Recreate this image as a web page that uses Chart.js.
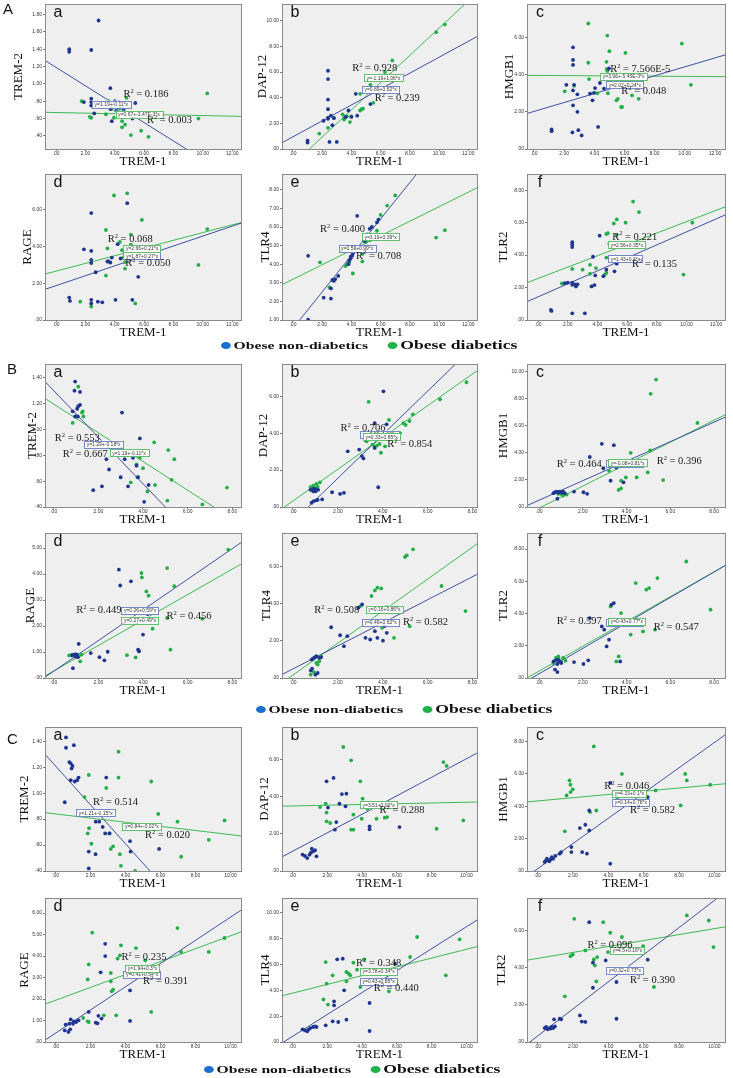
<!DOCTYPE html>
<html>
<head>
<meta charset="utf-8">
<script src="https://cdn.jsdelivr.net/npm/chart.js@4.4.1/dist/chart.umd.min.js"></script>
<style>
  body { margin: 0; background: #fff; width: 733px; height: 1078px; position: relative; overflow: hidden; }
  .plot { position: absolute; }
  .panel { position: absolute; font: 15px 'Liberation Sans', sans-serif; color: #111; }
  .legend { position: absolute; display: flex; align-items: center; white-space: nowrap;
            transform: scaleX(1.4); transform-origin: 0 50%; font-family: 'Liberation Serif', serif;
            font-weight: bold; color: #111; }
  .dot { width: 7px; height: 7px; border-radius: 50%; display: inline-block; margin-right: 2px; }
</style>
</head>
<body>
<script>
// axis titles and groups
const xTitle = 'TREM-1';
const yTitles = ['TREM-2', 'DAP-12', 'HMGB1', 'RAGE', 'TLR4', 'TLR2'];
const groups = ['Obese non-diabetics', 'Obese diabetics'];

// x axes per panel
const A_x = [-0.75, 12.6];
const A_c_x = [-0.46, 12.66];
const A_xt = [0, 2, 4, 6, 8, 10, 12];
const B_x = [[-0.39, 8.39], [-0.49, 8.2], [-0.55, 8.5]];
const B_xt = [0, 2, 4, 6, 8];
const C_x = [-0.6, 10.6];
const C_xt = [0, 2, 4, 6, 8, 10];

// ---------- Panel A ----------
const A_a_y = [0.25, 1.92], A_a_yt = [0.4, 0.6, 0.8, 1.0, 1.2, 1.4, 1.6, 1.8];
const A_a_nd = [[0.9,1.40],[0.9,1.37],[2.4,1.39],[2.9,1.73],[1.9,0.79],[2.4,0.83],[2.4,0.79],[2.4,0.75],[2.6,0.66],[3.7,0.95],[3.7,0.71],[3.8,0.57],[4.0,0.80],[4.1,0.69],[4.3,0.79],[4.5,0.75],[4.6,0.70],[5.2,0.60],[5.4,0.78]];
const A_a_d = [[1.75,0.80],[2.3,0.62],[2.4,0.61],[3.4,0.65],[3.6,0.80],[3.8,0.71],[3.95,0.61],[4.3,0.71],[4.5,0.57],[4.5,0.50],[4.6,0.70],[4.7,0.53],[4.8,0.84],[5.1,0.41],[5.8,0.46],[6.3,0.39],[9.7,0.60],[10.3,0.89]];
const A_a_fit = [[1.19, -0.106], [0.67, -0.0035]];
const A_a_r2 = ['0.186', '0.003'];
const A_a_eq = ['y=1.19+-0.11*x', 'y=0.67+-3.47E-3*x'];

const A_b_y = [0, 11.3], A_b_yt = [0, 2, 4, 6, 8, 10];
const A_b_nd = [[1.0,0.65],[1.0,0.5],[2.1,2.2],[2.4,2.35],[2.4,2.45],[2.4,3.1],[2.4,3.85],[2.4,5.45],[2.4,6.1],[2.5,0.55],[2.6,2.6],[2.7,1.85],[2.8,2.4],[3.0,0.55],[3.6,2.5],[3.8,3.0],[4.0,2.5],[4.3,4.3],[4.4,2.6],[5.3,3.5]];
const A_b_d = [[1.8,1.2],[2.4,1.65],[2.8,2.45],[3.4,2.7],[3.5,2.3],[3.5,2.4],[3.6,2.45],[3.7,2.55],[3.9,2.1],[4.0,2.55],[4.6,4.3],[4.6,3.0],[4.7,3.1],[4.8,3.15],[5.3,5.0],[5.5,3.6],[6.3,6.0],[6.8,6.9],[9.8,9.1],[10.4,9.7]];
const A_b_fit = [[0.95, 0.62], [-1.19, 1.06]];
const A_b_r2 = ['0.239', '0.928'];
const A_b_eq = ['y=0.89+0.62*x', 'y=-1.19+1.06*x'];

const A_c_y = [0, 7.8], A_c_yt = [0, 2, 4, 6];
const A_c_nd = [[1.17,1.05],[1.17,0.96],[2.15,3.45],[2.59,5.47],[2.59,4.79],[2.59,4.52],[2.66,3.45],[2.59,3.15],[2.59,2.35],[2.55,0.89],[2.88,2.94],[2.88,2.0],[2.94,1.01],[3.16,0.73],[3.72,2.98],[3.88,2.62],[3.98,3.02],[4.05,3.28],[4.25,1.19],[4.37,3.55],[4.64,3.25],[4.97,4.33],[5.14,3.98],[5.3,3.7]];
const A_c_d = [[2.04,3.1],[2.66,3.4],[3.6,4.64],[3.65,3.76],[3.6,6.75],[4.2,3.0],[4.81,4.69],[4.86,6.1],[4.81,4.3],[4.86,4.2],[4.9,3.0],[5.0,5.26],[5.47,2.62],[5.56,2.7],[5.78,2.26],[5.84,2.26],[6.06,5.17],[6.5,2.88],[6.94,2.7],[9.8,5.67],[10.4,3.45]];
const A_c_fit = [[2.02, 0.24], [3.96, -0.00545]];
const A_c_r2 = ['0.048', '7.566E-5'];
const A_c_eq = ['y=2.02+0.24*x', 'y=3.96+-5.45E-3*x'];

const A_d_y = [0, 7.95], A_d_yt = [0, 2, 4, 6];
const A_d_nd = [[0.9,1.22],[0.95,1.04],[1.9,3.85],[2.4,3.76],[2.4,3.27],[2.4,3.1],[2.4,5.82],[2.4,1.1],[2.4,0.9],[2.7,2.6],[2.85,1.0],[3.15,0.96],[3.5,3.18],[3.55,3.2],[3.7,3.13],[3.8,3.4],[4.05,1.1],[4.2,4.13],[4.4,3.35],[4.85,6.36],[5.2,1.1],[5.6,2.35]];
const A_d_d = [[1.65,1.0],[2.4,0.73],[3.4,4.9],[3.5,3.9],[3.4,2.42],[3.95,6.78],[4.35,4.25],[4.5,3.8],[4.6,3.4],[4.7,2.8],[4.7,3.15],[4.85,6.9],[5.1,4.1],[5.1,4.65],[5.4,0.9],[5.85,5.45],[9.7,3.0],[10.3,4.95]];
const A_d_fit = [[1.87, 0.27], [2.66, 0.21]];
const A_d_r2 = ['0.050', '0.068'];
const A_d_eq = ['y=1.87+0.27*x', 'y=2.66+0.21*x'];

const A_e_y = [1.0, 8.85], A_e_yt = [1, 2, 3, 4, 5, 6, 7, 8];
const A_e_nd = [[1.04,4.45],[1.04,1.02],[2.1,2.2],[2.6,2.15],[2.6,2.7],[2.7,3.15],[2.8,3.1],[2.9,3.2],[3.1,3.37],[3.8,4.0],[3.85,4.2],[3.95,4.3],[3.95,4.4],[4.05,4.45],[4.1,4.57],[4.4,6.6],[4.9,5.25],[5.1,5.6],[5.25,5.9],[5.4,6.0],[5.75,6.25],[5.85,6.4]];
const A_e_d = [[1.85,4.1],[2.5,2.75],[3.6,3.9],[3.7,4.0],[3.85,4.1],[4.1,3.5],[4.75,4.15],[4.75,4.55],[4.85,5.3],[5.0,5.2],[5.3,5.3],[5.5,5.5],[5.75,5.8],[6.0,6.65],[6.45,7.15],[7.0,7.7],[9.8,5.43],[10.4,5.83]];
const A_e_fit = [[0.55, 0.98], [3.19, 0.39]];
const A_e_r2 = ['0.708', '0.400'];
const A_e_eq = ['y=0.59+0.99*x', 'y=3.19+0.39*x'];

const A_f_y = [0, 9.0], A_f_yt = [0, 2, 4, 6, 8];
const A_f_nd = [[0.86,0.62],[0.9,0.56],[1.8,2.27],[2.0,2.3],[2.3,2.17],[2.3,2.3],[2.5,2.2],[2.55,2.07],[2.65,2.2],[2.3,4.65],[2.3,4.5],[2.3,4.8],[2.3,0.41],[3.15,0.41],[3.6,2.07],[3.8,2.15],[3.85,2.75],[3.7,3.9],[4.15,5.2],[4.4,2.7],[4.6,3.1],[5.15,3.0],[5.3,3.47]];
const A_f_d = [[1.6,2.25],[2.3,3.15],[3.0,3.1],[3.5,2.85],[3.5,3.4],[3.9,3.2],[4.5,2.8],[4.6,2.9],[4.6,3.85],[4.6,5.3],[4.7,5.35],[4.8,4.7],[5.1,5.95],[5.3,5.25],[5.3,6.2],[5.9,6.0],[6.4,7.3],[6.8,6.65],[9.8,2.8],[10.4,6.0]];
const A_f_fit = [[1.43, 0.4], [2.56, 0.35]];
const A_f_r2 = ['0.135', '0.221'];
const A_f_eq = ['y=1.43+0.4*x', 'y=2.56+0.35*x'];

// ---------- Panel B ----------
const B_a_y = [0.4, 1.506], B_a_yt = [0.4, 0.6, 0.8, 1.0, 1.2, 1.4];
const B_a_nd = [[0.96,1.37],[0.93,1.30],[1.18,1.29],[1.18,1.19],[1.1,1.18],[1.05,1.16],[0.85,1.14],[0.96,1.10],[1.08,1.10],[3.06,1.13],[3.86,0.93],[2.36,0.77],[3.18,0.77],[3.55,0.78],[2.48,0.69],[3.71,0.72],[3.0,0.63],[3.78,0.63],[2.16,0.56],[1.77,0.53],[3.33,0.56],[4.25,0.57],[4.05,0.44]];
const B_a_d = [[1.1,1.33],[1.3,1.14],[1.27,1.13],[1.33,1.10],[0.85,1.05],[1.0,1.10],[4.5,0.90],[5.13,0.84],[5.4,0.77],[3.86,0.78],[3.71,0.73],[4.0,0.70],[3.75,0.63],[3.45,0.59],[5.28,0.61],[4.54,0.57],[4.2,0.52],[5.09,0.45],[6.66,0.42],[7.76,0.55]];
const B_a_fit = [[1.30, -0.18], [1.196, -0.111]];
const B_a_r2 = ['0.553', '0.667'];
const B_a_eq = ['y=1.29+-0.18*x', 'y=1.19+-0.11*x'];

const B_b_y = [0, 7.75], B_b_yt = [0, 2, 4, 6];
const B_b_nd = [[0.83,0.23],[0.93,0.32],[1.04,0.36],[1.1,0.39],[1.0,0.85],[0.78,0.93],[0.9,0.98],[1.0,0.98],[1.12,0.93],[0.9,0.85],[1.3,0.41],[1.74,0.8],[2.1,0.71],[2.27,0.77],[2.44,3.02],[2.95,3.11],[3.07,2.76],[3.14,2.63],[3.22,3.65],[3.64,4.54],[3.8,1.07],[4.03,6.27],[4.17,4.48],[3.64,3.2]];
const B_b_d = [[0.9,1.16],[1.04,1.25],[1.2,1.33],[0.95,1.03],[0.78,1.07],[1.1,1.1],[3.37,5.7],[3.28,3.56],[3.54,3.38],[3.64,3.29],[3.75,3.33],[3.86,3.42],[3.92,2.94],[4.1,3.29],[4.28,4.72],[4.77,4.0],[4.92,4.54],[5.02,4.45],[5.19,4.66],[5.34,5.02],[6.55,5.84],[7.73,6.76]];
const B_b_fit = [[-0.8, 1.18], [0.33, 0.86]];
const B_b_r2 = ['0.706', '0.854'];
const B_b_eq = ['y=-0.80+1.18*x', 'y=0.33+0.85*x'];

const B_c_y = [0, 10.55], B_c_yt = [0, 2, 4, 6, 8, 10];
const B_c_nd = [[0.66,1.02],[0.73,1.09],[0.8,1.14],[0.88,1.07],[0.95,1.14],[1.02,1.07],[1.1,1.14],[1.17,1.02],[0.84,0.61],[1.6,1.14],[2.03,1.09],[2.2,0.97],[2.32,3.69],[2.87,4.66],[2.94,2.86],[3.27,1.94],[3.42,4.56],[3.53,2.91],[3.86,1.82],[3.97,3.28]];
const B_c_d = [[0.88,0.97],[1.0,0.97],[1.1,0.85],[1.26,0.92],[3.2,2.67],[3.31,3.2],[3.64,1.26],[3.75,1.94],[3.75,1.38],[3.97,2.18],[4.19,4.0],[4.46,2.18],[4.97,2.55],[5.08,4.17],[5.1,8.35],[5.35,9.4],[5.67,1.99],[7.24,6.2]];
const B_c_fit = [[0.5, 0.72], [-0.08, 0.81]];
const B_c_r2 = ['0.464', '0.396'];
const B_c_eq = ['y=0.50+0.72*x', 'y=-0.08+0.81*x'];

const B_d_y = [0, 5.58], B_d_yt = [0, 1, 2, 3, 4, 5];
const B_d_nd = [[0.86,0.38],[0.93,0.9],[0.82,0.87],[0.97,0.83],[1.04,0.9],[1.08,0.8],[1.12,1.31],[1.66,0.96],[2.05,0.8],[2.27,0.68],[2.42,1.01],[2.92,4.17],[2.98,3.56],[3.46,3.72],[3.56,2.18],[3.78,1.09],[3.82,1.03],[4.0,1.67],[4.21,2.46],[4.28,2.24]];
const B_d_d = [[0.69,0.87],[0.82,0.9],[0.97,0.92],[1.12,0.83],[1.19,0.64],[1.25,0.9],[3.28,0.88],[3.67,0.79],[3.67,2.18],[3.82,1.03],[3.93,4.04],[3.95,3.87],[4.15,3.33],[4.25,3.17],[4.43,1.9],[5.08,2.31],[5.08,4.23],[5.23,1.09],[5.4,3.53],[6.65,2.28],[7.82,4.94]];
const B_d_fit = [[0.26, 0.59], [0.27, 0.49]];
const B_d_r2 = ['0.449', '0.456'];
const B_d_eq = ['y=0.26+0.59*x', 'y=0.27+0.49*x'];

const B_e_y = [0, 7.8], B_e_yt = [0, 2, 4, 6];
const B_e_nd = [[0.79,0.4],[0.85,0.5],[1.0,0.18],[1.1,0.27],[0.96,1.11],[0.89,1.04],[1.04,1.17],[1.17,1.08],[0.83,0.99],[1.25,1.11],[1.7,2.73],[2.1,2.3],[2.27,1.71],[2.42,2.25],[2.91,3.78],[3.08,3.96],[3.23,2.16],[3.44,2.07],[3.65,2.52],[3.76,2.16],[4.01,2.01],[4.08,2.79],[4.18,2.43]];
const B_e_d = [[0.79,0.18],[0.93,0.32],[1.04,0.81],[1.17,0.9],[1.25,1.17],[1.1,0.72],[3.01,3.87],[3.5,4.41],[3.65,4.71],[3.76,4.86],[3.93,4.82],[3.97,2.7],[4.18,3.83],[4.5,2.16],[4.99,6.51],[5.07,6.6],[5.35,6.92],[5.2,2.79],[6.62,4.95],[7.69,3.6]];
const B_e_fit = [[0.49, 0.62], [0.16, 0.86]];
const B_e_r2 = ['0.582', '0.508'];
const B_e_eq = ['y=0.49+0.62*x', 'y=0.16+0.86*x'];

const B_f_y = [0, 9.0], B_f_yt = [0, 2, 4, 6, 8];
const B_f_nd = [[0.73,0.52],[0.84,0.37],[0.66,1.03],[0.77,1.1],[0.88,1.14],[0.95,1.03],[1.02,0.93],[0.84,0.87],[1.6,0.99],[2.03,0.87],[2.25,1.1],[2.32,3.72],[2.87,3.2],[2.98,3.0],[3.09,1.96],[3.2,2.38],[3.31,4.55],[3.42,4.65],[3.71,3.51],[3.71,1.03],[3.8,3.31]];
const B_f_d = [[0.66,0.93],[0.77,1.24],[0.88,1.34],[0.99,0.99],[1.1,1.24],[1.21,1.07],[3.27,4.44],[3.53,1.03],[3.64,1.34],[3.75,4.03],[3.86,3.51],[4.19,2.69],[4.42,5.89],[4.75,2.89],[4.9,5.48],[5.03,5.58],[5.3,3.0],[5.41,6.2],[6.73,7.23],[7.84,4.24]];
const B_f_fit = [[0.26, 0.79], [0.43, 0.77]];
const B_f_r2 = ['0.597', '0.547'];
const B_f_eq = ['y=0.26+0.79*x', 'y=0.43+0.77*x'];

// ---------- Panel C ----------
const C_a_y = [0.4, 1.51], C_a_yt = [0.4, 0.6, 0.8, 1.0, 1.2, 1.4];
const C_a_nd = [[0.6,1.43],[0.6,1.35],[1.05,1.37],[0.79,1.24],[0.87,1.23],[0.97,1.21],[0.92,1.19],[0.87,1.10],[1.1,1.09],[1.24,1.10],[1.32,1.12],[0.53,0.93],[1.9,0.55],[1.9,0.42],[2.3,0.78],[2.5,0.78],[2.7,0.74],[2.84,0.69],[2.9,1.12],[3.08,0.69],[2.29,0.53],[4.26,0.63],[4.29,0.55],[5.92,0.57]];
const C_a_d = [[1.66,0.97],[1.9,1.14],[1.92,0.73],[1.84,0.69],[2.05,0.61],[2.9,1.04],[3.1,0.69],[3.16,0.57],[3.29,0.59],[3.6,1.12],[3.6,1.32],[3.68,0.53],[3.74,0.44],[4.55,0.40],[5.47,1.09],[5.87,0.84],[6.97,0.78],[7.18,0.51],[8.76,0.64],[9.66,0.79]];
const C_a_fit = [[1.21, -0.15], [0.84, -0.016]];
const C_a_r2 = ['0.514', '0.020'];
const C_a_eq = ['y=1.21+-0.15*x', 'y=0.84+-0.02*x'];

const C_b_y = [0, 7.77], C_b_yt = [0, 2, 4, 6];
const C_b_nd = [[0.58,0.88],[0.72,0.81],[0.85,0.7],[0.98,0.88],[1.06,0.99],[1.11,1.2],[1.19,1.06],[1.3,1.12],[1.38,0.79],[1.96,4.84],[2.04,3.42],[2.36,5.02],[2.44,2.23],[2.52,2.64],[2.7,3.63],[2.84,4.15],[3.05,3.49],[3.1,4.17],[4.43,2.41],[4.43,2.25],[6.15,2.37]];
const C_b_d = [[1.59,3.45],[1.91,3.63],[1.96,3.15],[1.96,2.68],[2.17,2.59],[2.92,6.69],[3.37,5.97],[3.37,2.23],[3.5,2.23],[3.5,3.04],[3.9,4.84],[3.98,2.82],[4.03,3.9],[4.3,3.36],[4.83,2.82],[5.3,2.88],[5.44,2.91],[8.28,2.28],[8.67,5.88],[8.86,5.67],[9.81,2.73]];
const C_b_fit = [[1.06, 0.5], [3.51, 0.02]];
const C_b_r2 = [null, '0.288'];
const C_b_eq = [null, 'y=3.51+0.02*x'];

const C_c_y = [0, 8.9], C_c_yt = [0, 2, 4, 6, 8];
const C_c_nd = [[0.4,0.56],[0.48,0.66],[0.53,0.76],[0.66,0.6],[0.74,0.72],[0.8,0.86],[0.88,0.76],[1.0,0.93],[1.25,1.07],[1.33,1.17],[1.91,1.48],[1.91,1.17],[2.39,2.65],[2.52,1.17],[2.7,2.86],[2.79,1.07],[2.92,2.51],[2.92,3.74],[4.11,5.45],[4.11,0.45],[6.23,4.57]];
const C_c_d = [[1.54,2.45],[1.64,4.67],[1.8,5.6],[1.86,5.33],[1.86,4.88],[1.99,5.04],[2.97,3.64],[3.32,3.74],[3.18,7.7],[4.46,4.67],[4.51,4.42],[4.56,4.16],[4.64,4.83],[4.77,6.0],[6.68,4.98],[8.09,4.05],[8.35,6.0],[8.44,5.6],[9.76,5.33]];
const C_c_fit = [[0.14, 0.78], [4.33, 0.1]];
const C_c_r2 = ['0.582', '0.046'];
const C_c_eq = ['y=0.14+0.78*x', 'y=4.33+0.1*x'];

const C_d_y = [0, 6.7], C_d_yt = [0, 1, 2, 3, 4, 5, 6];
const C_d_nd = [[0.53,0.54],[0.58,0.81],[0.79,0.85],[0.74,0.47],[0.84,0.59],[0.87,1.05],[1.0,0.85],[1.05,0.96],[1.18,0.93],[1.32,1.01],[1.9,1.4],[2.3,0.9],[2.4,0.87],[2.45,1.22],[2.63,1.09],[2.58,3.24],[2.84,4.0],[2.84,4.57],[4.26,2.4],[4.26,0.98]];
const C_d_d = [[1.58,1.12],[1.84,0.96],[1.9,0.93],[1.84,2.91],[1.9,3.61],[2.1,5.09],[2.76,1.24],[3.16,3.21],[3.16,2.82],[3.21,2.36],[3.29,2.43],[3.47,1.24],[3.55,3.88],[3.68,4.03],[3.74,4.5],[4.6,4.37],[5.13,3.8],[5.47,1.4],[6.97,5.3],[7.18,4.19],[8.76,4.19],[9.66,4.84]];
const C_d_fit = [[0.41, 0.54], [1.94, 0.3]];
const C_d_r2 = ['0.391', '0.235'];
const C_d_eq = ['y=0.41+0.54*x', 'y=1.94+0.3*x'];

const C_e_y = [0, 11.15], C_e_yt = [0, 2, 4, 6, 8, 10];
const C_e_nd = [[0.58,0.98],[0.72,0.9],[0.85,0.83],[0.93,0.98],[1.03,1.08],[1.19,1.16],[1.3,1.21],[1.38,1.16],[1.91,1.29],[2.31,1.6],[2.39,2.84],[2.39,3.15],[2.57,6.4],[2.63,1.55],[2.89,6.45],[2.97,4.0],[3.1,1.73],[4.43,3.02],[4.43,0.85],[5.89,6.06]];
const C_e_d = [[1.78,3.3],[1.91,6.19],[1.96,4.52],[2.04,2.9],[2.31,5.16],[3.1,5.42],[3.1,4.7],[3.24,5.29],[3.32,5.16],[3.5,6.14],[3.71,5.6],[3.9,4.26],[4.11,6.4],[5.54,3.92],[6.76,6.58],[7.16,8.13],[8.81,5.16],[9.6,7.95]];
const C_e_fit = [[0.43, 0.85], [3.78, 0.34]];
const C_e_r2 = ['0.440', '0.348'];
const C_e_eq = ['y=0.43+0.85*x', 'y=3.78+0.34*x'];

const C_f_y = [0, 7.75], C_f_yt = [0, 2, 4, 6];
const C_f_nd = [[0.4,0.75],[0.48,0.81],[0.58,0.68],[0.66,0.75],[0.74,0.72],[0.8,0.81],[0.88,0.75],[0.98,0.84],[0.93,1.22],[1.25,1.25],[1.33,1.22],[2.39,1.43],[2.5,1.1],[2.7,1.08],[2.92,6.45],[3.13,4.27],[3.13,2.92],[3.85,4.39],[4.46,1.25],[4.46,3.23],[6.23,4.43]];
const C_f_d = [[1.54,2.46],[1.86,4.62],[1.99,4.71],[2.07,6.63],[2.7,4.93],[3.18,4.44],[3.24,4.12],[3.32,3.26],[3.37,4.57],[3.71,6.45],[3.98,4.84],[4.11,5.88],[4.77,5.65],[5.97,5.16],[6.58,2.96],[8.44,6.81],[9.68,6.54],[9.95,5.11]];
const C_f_fit = [[0.32, 0.73], [4.5, 0.16]];
const C_f_r2 = ['0.390', '0.096'];
const C_f_eq = ['y=0.32+0.73*x', 'y=4.5+0.16*x'];

// ---------- layout ----------
const COLS = [[45, 241], [282, 477], [527, 725]];
const ROWS = [[4, 149], [174, 320], [364, 507], [533, 678], [727, 871], [898, 1042]];
const BLUE = '#1f3590', GREEN = '#23ae48';
const BLUE_LINE = '#3e51a3', GREEN_LINE = '#3dba52';
const BLUE_BOX = '#7488c8', GREEN_BOX = '#62bf70';

// [row, col, letter, x range, x ticks, y range, y ticks, nd, d, fit, r2, eq, label positions, y title gap]
const plots = [
  [0, 0, 'a', A_x, A_xt, A_a_y, A_a_yt, A_a_nd, A_a_d, A_a_fit, A_a_r2, A_a_eq, [[.40,.62],[.52,.80],[.24,.69],[.36,.76]], 26],
  [0, 1, 'b', A_x, A_xt, A_b_y, A_b_yt, A_b_nd, A_b_d, A_b_fit, A_b_r2, A_b_eq, [[.475,.65],[.36,.44],[.41,.59],[.42,.51]], 19],
  [0, 2, 'c', A_c_x, A_xt, A_c_y, A_c_yt, A_c_nd, A_c_d, A_c_fit, A_c_r2, A_c_eq, [[.476,.60],[.42,.45],[.40,.557],[.37,.50]], 17],
  [1, 0, 'd', A_x, A_xt, A_d_y, A_d_yt, A_d_nd, A_d_d, A_d_fit, A_d_r2, A_d_eq, [[.41,.61],[.32,.45],[.40,.56],[.40,.51]], 17],
  [1, 1, 'e', A_x, A_xt, A_e_y, A_e_yt, A_e_nd, A_e_d, A_e_fit, A_e_r2, A_e_eq, [[.38,.56],[.195,.38],[.29,.51],[.41,.43]], 16],
  [1, 2, 'f', A_x, A_xt, A_f_y, A_f_yt, A_f_nd, A_f_d, A_f_fit, A_f_r2, A_f_eq, [[.53,.62],[.43,.43],[.41,.58],[.41,.485]], 23],
  [2, 0, 'a', B_x[0], B_xt, B_a_y, B_a_yt, B_a_nd, B_a_d, B_a_fit, B_a_r2, B_a_eq, [[.05,.52],[.09,.63],[.20,.56],[.33,.62]], 12],
  [2, 1, 'b', B_x[1], B_xt, B_b_y, B_b_yt, B_b_nd, B_b_d, B_b_fit, B_b_r2, B_b_eq, [[.30,.45],[.54,.56],[.40,.49],[.415,.51]], 18],
  [2, 2, 'c', B_x[2], B_xt, B_c_y, B_c_yt, B_c_nd, B_c_d, B_c_fit, B_c_r2, B_c_eq, [[.15,.70],[.655,.68],[.40,.695],[.41,.69]], 23],
  [3, 0, 'd', B_x[0], B_xt, B_d_y, B_d_yt, B_d_nd, B_d_d, B_d_fit, B_d_r2, B_d_eq, [[.16,.53],[.62,.575],[.39,.535],[.39,.60]], 14],
  [3, 1, 'e', B_x[1], B_xt, B_e_y, B_e_yt, B_e_nd, B_e_d, B_e_fit, B_e_r2, B_e_eq, [[.62,.615],[.165,.53],[.41,.615],[.43,.525]], 15],
  [3, 2, 'f', B_x[2], B_xt, B_f_y, B_f_yt, B_f_nd, B_f_d, B_f_fit, B_f_r2, B_f_eq, [[.15,.61],[.64,.65],[.40,.615],[.41,.61]], 23],
  [4, 0, 'a', C_x, C_xt, C_a_y, C_a_yt, C_a_nd, C_a_d, C_a_fit, C_a_r2, C_a_eq, [[.245,.525],[.51,.75],[.16,.595],[.395,.69]], 20],
  [4, 1, 'b', C_x, C_xt, C_b_y, C_b_yt, C_b_nd, C_b_d, C_b_fit, C_b_r2, C_b_eq, [null,[.50,.58],null,[.40,.54]], 17],
  [4, 2, 'c', C_x, C_xt, C_c_y, C_c_yt, C_c_nd, C_c_d, C_c_fit, C_c_r2, C_c_eq, [[.52,.58],[.39,.41],[.43,.525],[.43,.46]], 23],
  [5, 0, 'd', C_x, C_xt, C_d_y, C_d_yt, C_d_nd, C_d_d, C_d_fit, C_d_r2, C_d_eq, [[.50,.58],[.39,.41],[.40,.53],[.41,.49]], 20],
  [5, 1, 'e', C_x, C_xt, C_e_y, C_e_yt, C_e_nd, C_e_d, C_e_fit, C_e_r2, C_e_eq, [[.47,.625],[.38,.455],[.40,.58],[.40,.51]], 16],
  [5, 2, 'f', C_x, C_xt, C_f_y, C_f_yt, C_f_nd, C_f_d, C_f_fit, C_f_r2, C_f_eq, [[.52,.57],[.305,.325],[.40,.50],[.42,.365]], 25]
];

// SPSS style tick labels: .00, .40, 1.20
const fmt = v => { const s = (+v).toFixed(2); return s.startsWith('0') ? s.slice(1) : s; };

// background, frame, letters, R² and equation boxes
const framePlugin = {
  id: 'frame',
  beforeDraw(chart) {
    const a = chart.chartArea, ctx = chart.ctx;
    ctx.save();
    ctx.fillStyle = '#efefef';
    ctx.fillRect(a.left, a.top, a.width, a.height);
    ctx.restore();
  },
  afterDraw(chart, args, o) {
    const a = chart.chartArea, ctx = chart.ctx;
    ctx.save();
    ctx.strokeStyle = '#8a8a8a';
    ctx.lineWidth = 1;
    ctx.strokeRect(Math.round(a.left) + 0.5, Math.round(a.top) + 0.5, Math.round(a.width), Math.round(a.height));

    ctx.fillStyle = '#111';
    ctx.font = '16px "Liberation Sans"';
    ctx.textAlign = 'center';
    ctx.textBaseline = 'middle';
    ctx.fillText(o.letter, a.left + 13, a.top + 9);
    ctx.textAlign = 'left';

    // equation boxes (non-diabetic first, diabetic on top)
    [0, 1].forEach(i => {
      const p = o.pos[2 + i], t = o.eq[i];
      if (!p || !t) return;
      const x = a.left + p[0] * a.width, y = a.top + p[1] * a.height;
      ctx.font = '5px "Liberation Sans"';
      const w = ctx.measureText(t).width + 5, h = 7;
      ctx.fillStyle = '#fff';
      ctx.fillRect(x, y - h / 2, w, h);
      ctx.strokeStyle = i ? GREEN_BOX : BLUE_BOX;
      ctx.strokeRect(Math.round(x) + 0.5, Math.round(y - h / 2) + 0.5, Math.round(w), h);
      ctx.fillStyle = '#333';
      ctx.fillText(t, x + 2.5, y + 0.5);
    });

    // R² labels
    [0, 1].forEach(i => {
      const p = o.pos[i], t = o.r2[i];
      if (!p || !t) return;
      let x = a.left + p[0] * a.width;
      const y = a.top + p[1] * a.height;
      ctx.fillStyle = '#1a1a1a';
      ctx.font = '10.5px "Liberation Serif"';
      ctx.fillText('R', x, y);
      x += ctx.measureText('R').width;
      ctx.font = '6.5px "Liberation Serif"';
      ctx.fillText('2', x, y - 3);
      x += ctx.measureText('2').width;
      ctx.font = '10.5px "Liberation Serif"';
      ctx.fillText(' = ' + t, x, y);
    });
    ctx.restore();
  }
};

const PAD_L = 46, PAD_R = 4, PAD_T = 4, PAD_B = 22;

function makePlot(p) {
  const [row, col, letter, xr, xt, yr, yt, nd, d, fit, r2, eq, pos, gap] = p;
  const fx = COLS[col], fy = ROWS[row];
  const fw = fx[1] - fx[0], fh = fy[1] - fy[0];

  const wrap = document.createElement('div');
  wrap.className = 'plot';
  wrap.style.left = (fx[0] - PAD_L) + 'px';
  wrap.style.top = (fy[0] - PAD_T) + 'px';
  wrap.style.width = (fw + PAD_L + PAD_R) + 'px';
  wrap.style.height = (fh + PAD_T + PAD_B) + 'px';
  const cv = document.createElement('canvas');
  wrap.appendChild(cv);
  document.body.appendChild(wrap);

  const pts = arr => arr.map(q => ({ x: q[0], y: q[1] }));
  const line = f => [{ x: xr[0], y: f[0] + f[1] * xr[0] }, { x: xr[1], y: f[0] + f[1] * xr[1] }];
  const pointSet = (data, c) => ({ data: pts(data), backgroundColor: c, borderWidth: 0, pointRadius: 1.9 });
  const lineSet = (f, c) => ({ data: line(f), showLine: true, borderColor: c, borderWidth: 1, pointRadius: 0, clip: 0 });

  const tickFont = { family: 'Liberation Sans', size: 5 };
  const titleFont = { family: 'Liberation Serif', size: 13 };

  new Chart(cv, {
    type: 'scatter',
    data: {
      datasets: [
        pointSet(nd, BLUE), pointSet(d, GREEN),
        lineSet(fit[0], BLUE_LINE), lineSet(fit[1], GREEN_LINE)
      ]
    },
    options: {
      responsive: true,
      maintainAspectRatio: false,
      animation: false,
      events: [],
      layout: { padding: { top: PAD_T, right: PAD_R, left: 0, bottom: 0 } },
      plugins: {
        legend: { display: false },
        tooltip: { enabled: false },
        frame: { letter, r2, eq, pos }
      },
      scales: {
        x: {
          type: 'linear', min: xr[0], max: xr[1],
          afterBuildTicks: s => { s.ticks = xt.map(v => ({ value: v })); },
          afterFit: s => { s.height = PAD_B; },
          grid: { drawOnChartArea: false, tickLength: 2, color: '#777' },
          border: { display: false },
          ticks: { font: tickFont, color: '#333', padding: 0, maxRotation: 0, autoSkip: false, callback: fmt },
          title: { display: true, text: xTitle, font: titleFont, color: '#111', padding: { top: 0, bottom: 2 } }
        },
        y: {
          type: 'linear', min: yr[0], max: yr[1],
          afterBuildTicks: s => { s.ticks = yt.map(v => ({ value: v })); },
          afterFit: s => { s.width = PAD_L; },
          grid: { drawOnChartArea: false, tickLength: 2, color: '#777' },
          border: { display: false },
          ticks: { font: tickFont, color: '#333', padding: 1, autoSkip: false, callback: fmt },
          title: {
            display: true, text: yTitles[(row % 2) * 3 + col], font: titleFont, color: '#111',
            padding: { top: Math.max(0, PAD_L - gap - 7.8), bottom: 0 }
          }
        }
      }
    },
    plugins: [framePlugin]
  });
}

plots.forEach(makePlot);

// panel letters
[['A', 3, 0], ['B', 7, 360], ['C', 7, 730]].forEach(([t, x, y]) => {
  const el = document.createElement('div');
  el.className = 'panel';
  el.textContent = t;
  el.style.left = x + 'px';
  el.style.top = y + 'px';
  document.body.appendChild(el);
});

// legends under each panel
[[221, 345], [256, 709], [204, 1069]].forEach(([x, y]) => {
  const lg = document.createElement('div');
  lg.className = 'legend';
  lg.style.left = x + 'px';
  lg.style.top = (y - 8) + 'px';
  lg.style.height = '16px';
  lg.innerHTML =
    '<span class="dot" style="background:#1b6fd0"></span><span style="font-size:11.2px">' + groups[0] + '</span>' +
    '<span class="dot" style="background:#1fb24a;margin-left:14px"></span><span style="font-size:12.6px">' + groups[1] + '</span>';
  document.body.appendChild(lg);
});
</script>
</body>
</html>
